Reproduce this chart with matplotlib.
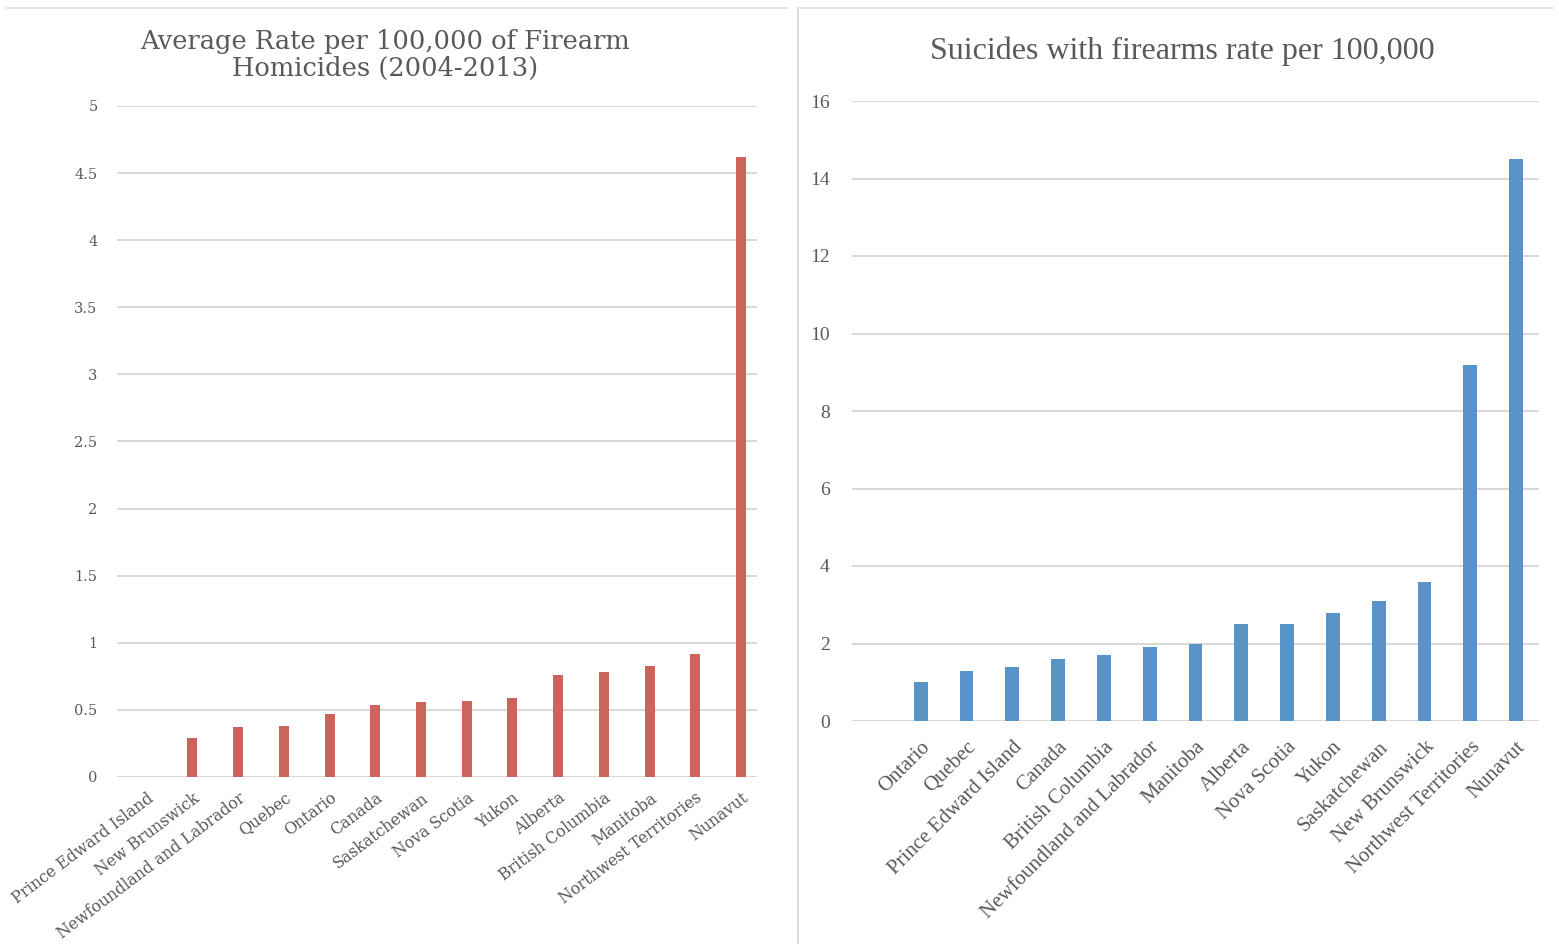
import matplotlib
matplotlib.use("Agg")
import matplotlib.pyplot as plt
from matplotlib.lines import Line2D
import numpy as np

# Left chart data
hom_categories = ["Prince Edward Island", "New Brunswick", "Newfoundland and Labrador",
                  "Quebec", "Ontario", "Canada", "Saskatchewan", "Nova Scotia", "Yukon",
                  "Alberta", "British Columbia", "Manitoba", "Northwest Territories", "Nunavut"]
hom_values = [0.0, 0.29, 0.37, 0.38, 0.47, 0.54, 0.56, 0.57, 0.59, 0.76, 0.78, 0.83, 0.92, 4.62]
hom_yticks = [0, 0.5, 1, 1.5, 2, 2.5, 3, 3.5, 4, 4.5, 5]
hom_ytick_labels = ["0", "0.5", "1", "1.5", "2", "2.5", "3", "3.5", "4", "4.5", "5"]

# Right chart data (first slot empty)
sui_categories = ["", "Ontario", "Quebec", "Prince Edward Island", "Canada", "British Columbia",
                  "Newfoundland and Labrador", "Manitoba", "Alberta", "Nova Scotia", "Yukon",
                  "Saskatchewan", "New Brunswick", "Northwest Territories", "Nunavut"]
sui_values = [0.0, 1.0, 1.3, 1.4, 1.6, 1.7, 1.9, 2.0, 2.5, 2.5, 2.8, 3.1, 3.6, 9.2, 14.5]
sui_yticks = [0, 2, 4, 6, 8, 10, 12, 14, 16]

W, H = 1559, 944
fig = plt.figure(figsize=(W / 100, H / 100), dpi=100)
fig.patch.set_facecolor("white")

txt = "#595959"
grid = "#d9d9d9"
serif = ["Liberation Serif", "DejaVu Serif"]
wide_serif = ["DejaVu Serif", "Liberation Serif"]


def ax_rect(x0, x1, ytop, ybot):
    return [x0 / W, 1 - ybot / H, (x1 - x0) / W, (ybot - ytop) / H]


# ---- Left chart ----
ax1 = fig.add_axes(ax_rect(117, 757, 106, 777))
xl = np.arange(len(hom_categories)) + 0.15
ax1.bar(xl, hom_values, width=0.22, color="#CB655C", zorder=3)
ax1.set_xlim(-0.5, len(hom_categories) - 0.5)
ax1.set_ylim(0, 5)
ax1.set_yticks(hom_yticks)
ax1.set_yticklabels(hom_ytick_labels, fontfamily=wide_serif, fontsize=10.5, color=txt)
ax1.set_xticks(xl)
ax1.set_xticklabels(hom_categories, rotation=37, ha="right", va="top",
                    rotation_mode="anchor", fontfamily=wide_serif, fontsize=11.3, color=txt)
ax1.tick_params(axis="y", length=0, pad=14)
ax1.tick_params(axis="x", length=0, pad=9)
ax1.grid(axis="y", color=grid, linewidth=1.5, zorder=0)
for s in ax1.spines.values():
    s.set_visible(False)
ax1.set_axisbelow(True)
fig.text(385 / W, 1 - 55 / H, "Average Rate per 100,000 of Firearm\nHomicides (2004-2013)",
         ha="center", va="center", fontfamily=wide_serif, fontsize=18.5, color=txt,
         linespacing=1.12)

# ---- Right chart ----
ax2 = fig.add_axes(ax_rect(852, 1539, 101, 721))
xr = np.arange(len(sui_categories))
ax2.bar(xr, sui_values, width=0.3, color="#5A93C8", zorder=3)
ax2.set_xlim(-0.5, len(sui_categories) - 0.5)
ax2.set_ylim(0, 16)
ax2.set_yticks(sui_yticks)
ax2.set_yticklabels([str(v) for v in sui_yticks], fontfamily=serif, fontsize=14, color=txt)
ax2.set_xticks(xr)
ax2.set_xticklabels(sui_categories, rotation=45, ha="right", va="top",
                    rotation_mode="anchor", fontfamily=serif, fontsize=15, color=txt)
ax2.tick_params(axis="y", length=0, pad=16)
ax2.tick_params(axis="x", length=0, pad=12)
ax2.grid(axis="y", color=grid, linewidth=1.5, zorder=0)
for s in ax2.spines.values():
    s.set_visible(False)
ax2.set_axisbelow(True)
fig.text(1182 / W, 1 - 51 / H, "Suicides with firearms rate per 100,000",
         ha="center", va="center", fontfamily=serif, fontsize=23, color=txt)

# ---- Panel borders ----
fig.add_artist(Line2D([6 / W, 788 / W], [1 - 8 / H, 1 - 8 / H], color="#e3e3e3", lw=1.2))
fig.add_artist(Line2D([798 / W, 1553 / W], [1 - 8 / H, 1 - 8 / H], color="#e3e3e3", lw=1.2))
fig.add_artist(Line2D([798 / W, 798 / W], [0, 1 - 8 / H], color="#dcdcdc", lw=1.5))

fig.savefig("out.png", dpi=100, facecolor="white")
